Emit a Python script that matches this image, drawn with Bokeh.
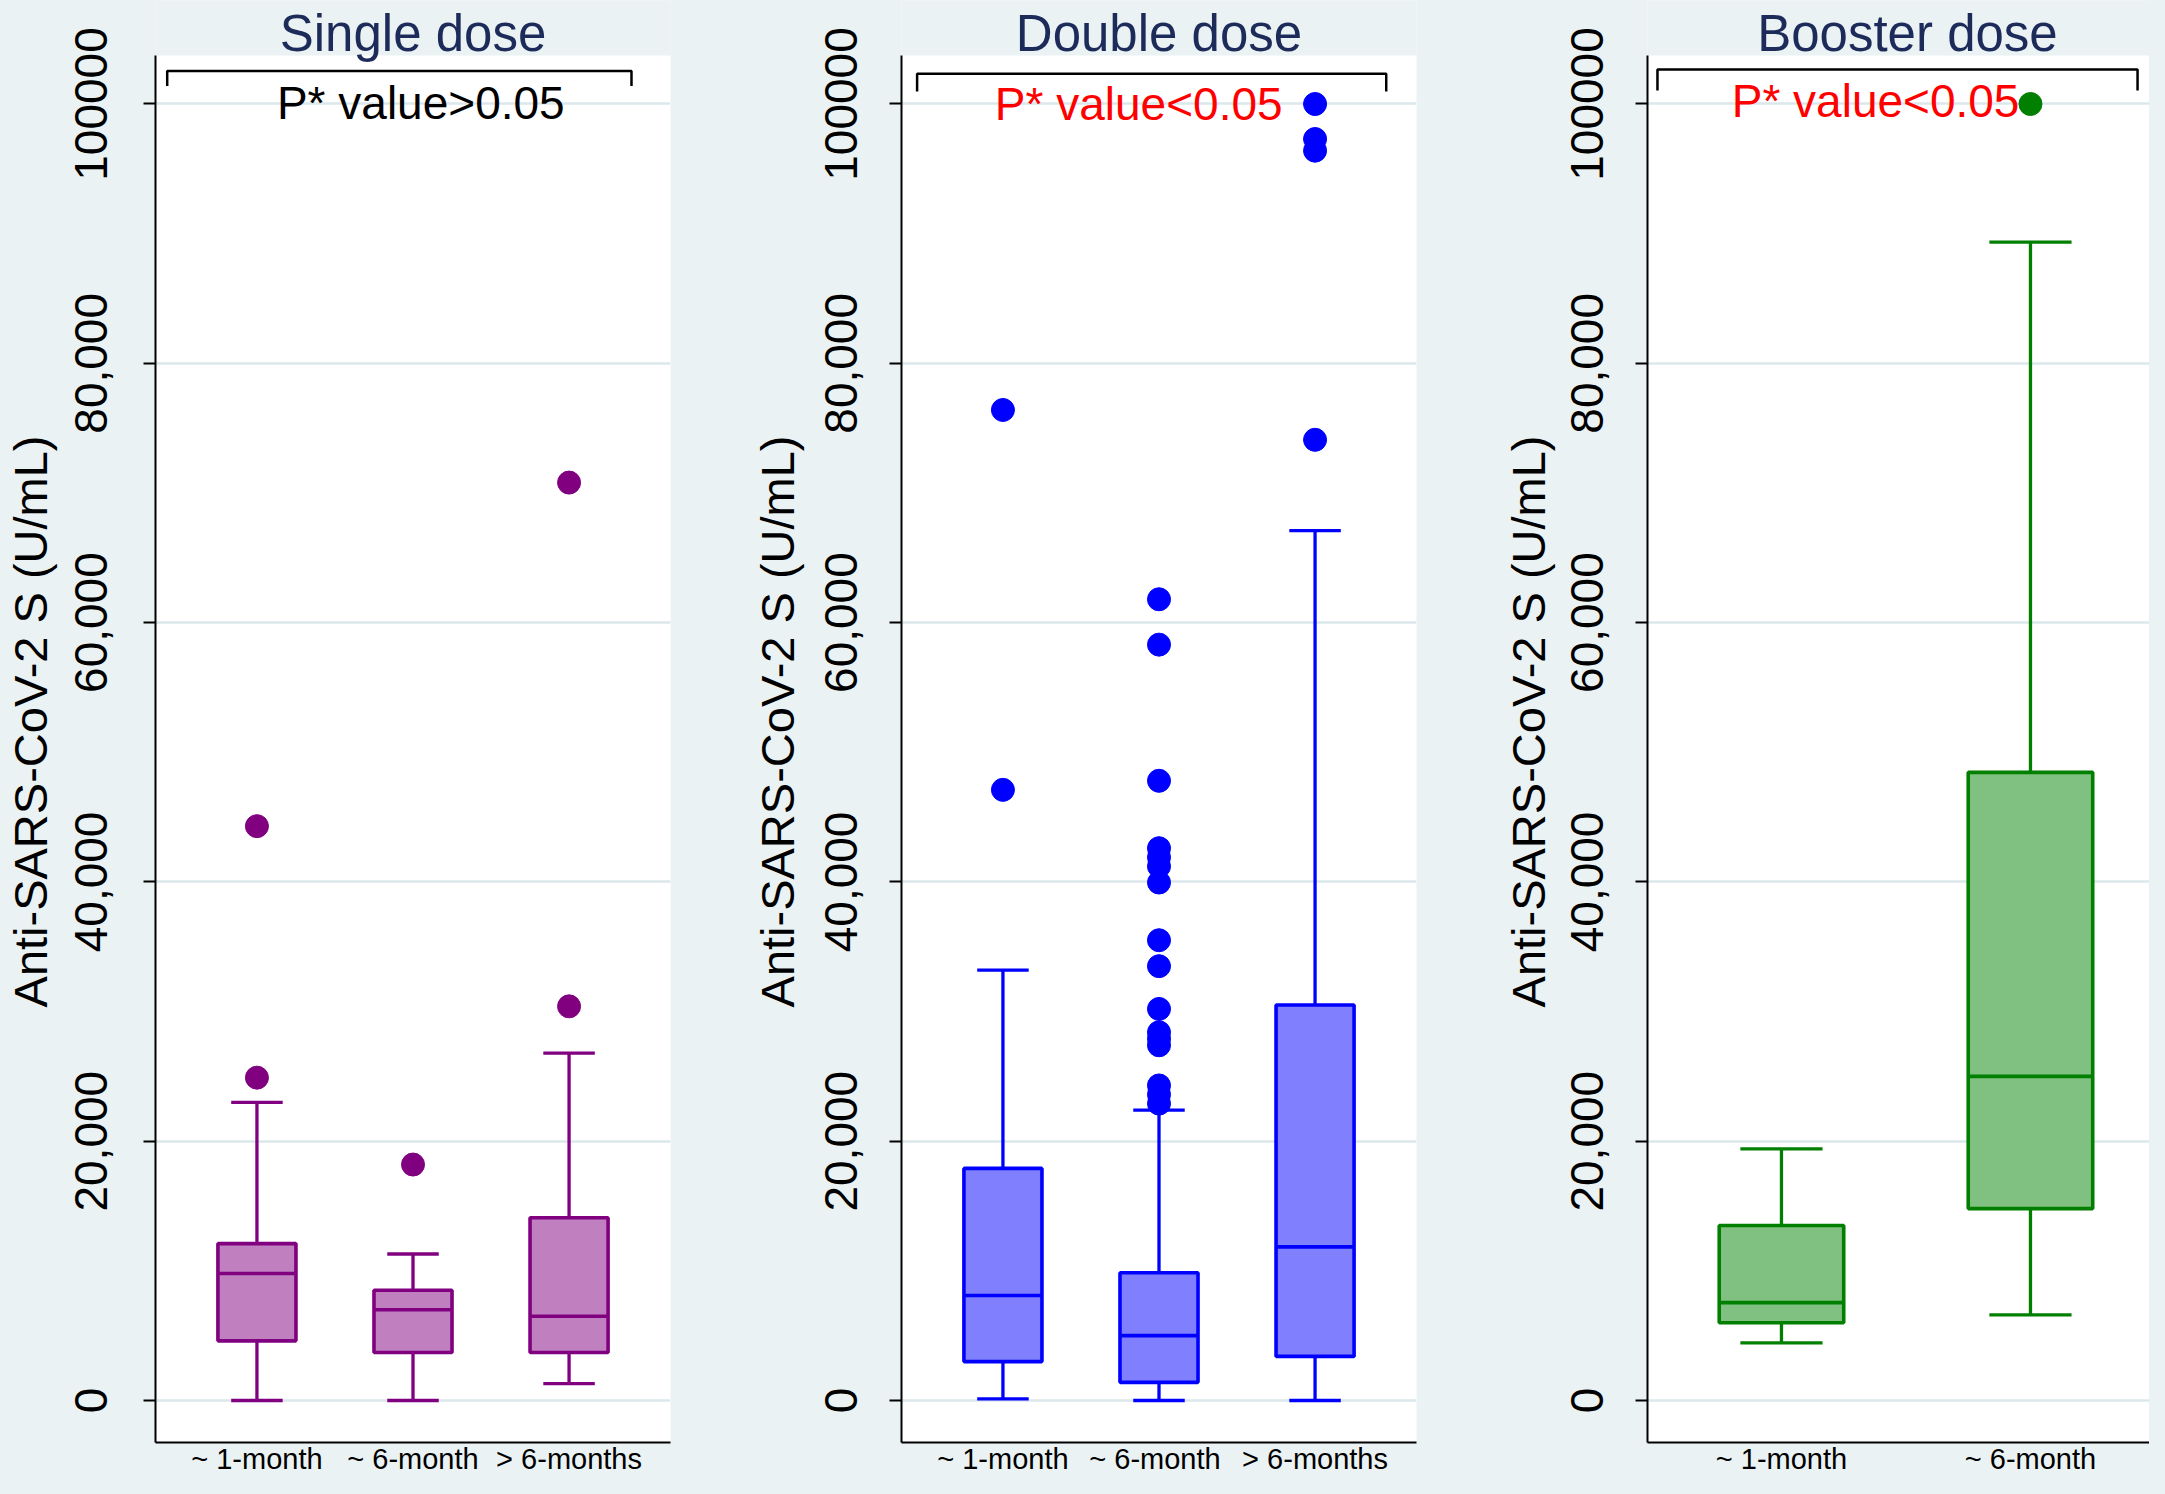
from bokeh.plotting import figure
from bokeh.layouts import row
from bokeh.models import FixedTicker, Range1d, LinearAxis, GlobalInlineStyleSheet
from bokeh.core.properties import value
from bokeh.embed import file_html
from bokeh.resources import INLINE

# ---------------- data ----------------
panel_titles = ["Single dose", "Double dose", "Booster dose"]
p_texts = ["P* value>0.05", "P* value<0.05", "P* value<0.05"]
y_label = "Anti-SARS-CoV-2 S (U/mL)"
y_ticks = [0, 20000, 40000, 60000, 80000, 100000]
y_tick_labels = ["0", "20,000", "40,000", "60,000", "80,000", "100000"]

single_labels = ["~ 1-month", "~ 6-month", "> 6-months"]
single_lower = [0, 0, 1300]
single_q1 = [4600, 3700, 3700]
single_median = [9800, 7000, 6500]
single_q3 = [12100, 8500, 14100]
single_upper = [23000, 11300, 26800]
single_out_group = [1, 1, 2, 3, 3]
single_out_value = [24900, 44300, 18200, 30400, 70800]

double_labels = ["~ 1-month", "~  6-month", "> 6-months"]
double_lower = [130, 0, 0]
double_q1 = [3000, 1400, 3400]
double_median = [8100, 5000, 11850]
double_q3 = [17900, 9850, 30500]
double_upper = [33200, 22400, 67100]
double_out_group = [1, 1,
                    2, 2, 2, 2, 2, 2, 2, 2, 2, 2, 2, 2, 2, 2, 2, 2,
                    3, 3, 3, 3]
double_out_value = [47100, 76400,
                    22900, 23600, 24300, 27400, 27900, 28400, 30200, 33500,
                    35500, 39950, 41200, 41900, 42600, 47800, 58300, 61800,
                    74100, 96400, 97300, 100000]

booster_labels = ["~ 1-month", "~ 6-month"]
booster_lower = [4450, 6600]
booster_q1 = [6000, 14800]
booster_median = [7550, 25000]
booster_q3 = [13500, 48450]
booster_upper = [19400, 89350]
booster_out_group = [2]
booster_out_value = [100000]

# ---------------- style ----------------
BG = "#eaf2f3"
GRID = "#dce7eb"
FONT = "Liberation Sans"
Y_BOTTOM = -3240      # bottom of frame (x axis line)
Y_WHITE_TOP = 103741  # top of white plot region
Y_TOP = 107983        # top of frame (grey title strip above white region)


def make_panel(title, labels, lower, q1, med, q3, upper, og, ov,
               line_col, fill_col, ptext, ptext_col, ptext_x, ptext_y,
               br_x0, br_x1, br_top, br_bot, title_x, tick_standoff,
               lab_standoff, x_start, x_end, width, right_border):
    n = len(labels)
    xs = list(range(1, n + 1))
    p = figure(width=width, height=1478, output_backend="svg",
               toolbar_location=None, tools="",
               x_range=Range1d(x_start, x_end),
               y_range=Range1d(Y_BOTTOM, Y_TOP),
               min_border_left=155, min_border_right=right_border,
               min_border_top=0, min_border_bottom=36)
    p.background_fill_color = "white"
    p.border_fill_color = BG
    p.outline_line_color = None

    # main y axis (ticks + tick labels)
    ya = p.left[0]
    ya.ticker = FixedTicker(ticks=y_ticks)
    ya.bounds = (Y_BOTTOM, Y_WHITE_TOP)
    ya.major_label_overrides = {t: l for t, l in zip(y_ticks, y_tick_labels)}
    ya.major_label_orientation = "vertical"
    ya.major_label_text_font = FONT
    ya.major_label_text_font_size = "46px"
    ya.major_label_text_color = "black"
    ya.major_label_standoff = tick_standoff
    ya.major_tick_out = 12
    ya.major_tick_in = 0
    ya.major_tick_line_width = 2
    ya.major_tick_line_color = "black"
    ya.minor_tick_line_color = None
    ya.axis_line_width = 2
    ya.axis_line_color = "black"

    # outer axis that only carries the y axis title
    ax2 = LinearAxis(ticker=FixedTicker(ticks=[]), axis_label=y_label,
                     axis_line_color=None,
                     major_tick_line_color=None, minor_tick_line_color=None,
                     major_tick_out=0, minor_tick_out=0, major_label_standoff=0,
                     axis_label_text_font=FONT,
                     axis_label_text_font_size="47px",
                     axis_label_text_font_style="normal",
                     axis_label_text_color="black",
                     axis_label_standoff=lab_standoff)
    p.add_layout(ax2, "left")

    xa = p.below[0]
    xa.ticker = FixedTicker(ticks=xs)
    xa.major_label_overrides = {x: l for x, l in zip(xs, labels)}
    xa.major_label_text_font = FONT
    xa.major_label_text_font_size = "29px"
    xa.major_label_text_color = "black"
    xa.major_label_standoff = 0
    xa.major_tick_out = 0
    xa.major_tick_in = 0
    xa.minor_tick_out = 0
    xa.minor_tick_in = 0
    xa.major_tick_line_color = None
    xa.minor_tick_line_color = None
    xa.axis_line_width = 2
    xa.axis_line_color = "black"

    p.xgrid.grid_line_color = None
    p.ygrid.grid_line_color = GRID
    p.ygrid.grid_line_width = 2.5

    # grey strip above the white plot region (title area)
    p.quad(left=[x_start - 1], right=[x_end + 1], bottom=[Y_WHITE_TOP],
           top=[Y_TOP + 5000], fill_color=BG, line_color=None)

    bw = 0.5
    cw = 0.33
    # whiskers
    p.segment(x0=xs, y0=q3, x1=xs, y1=upper, line_color=line_col, line_width=3.3)
    p.segment(x0=xs, y0=q1, x1=xs, y1=lower, line_color=line_col, line_width=3.3)
    p.segment(x0=[x - cw / 2 for x in xs], y0=upper, x1=[x + cw / 2 for x in xs],
              y1=upper, line_color=line_col, line_width=3.3)
    p.segment(x0=[x - cw / 2 for x in xs], y0=lower, x1=[x + cw / 2 for x in xs],
              y1=lower, line_color=line_col, line_width=3.3)
    # boxes
    p.vbar(x=xs, width=bw, bottom=q1, top=q3, fill_color=fill_col,
           line_color=line_col, line_width=3.6)
    p.segment(x0=[x - bw / 2 for x in xs], y0=med, x1=[x + bw / 2 for x in xs],
              y1=med, line_color=line_col, line_width=3.6)
    # outliers
    p.scatter(x=og, y=ov, size=23, fill_color=line_col, line_color=line_col)

    # bracket + p-value text
    p.line(x=[br_x0, br_x0, br_x1, br_x1], y=[br_bot, br_top, br_top, br_bot],
           line_color="black", line_width=2.5)
    p.text(x=[ptext_x], y=[ptext_y], text=[ptext], text_color=ptext_col,
           text_font=value(FONT), text_font_size="46px", text_align="center",
           text_baseline="alphabetic")

    # panel title
    p.text(x=[title_x], y=[105470], text=[title], text_color="#1c2b5a",
           text_font=value(FONT), text_font_size="51px", text_align="center",
           text_baseline="alphabetic")
    return p


p1 = make_panel(panel_titles[0], single_labels, single_lower, single_q1,
                single_median, single_q3, single_upper, single_out_group,
                single_out_value, "#800080", "#c080c0", p_texts[0], "black",
                2.05, 100110, 0.425, 3.40, 102553, 101380, 2.0,
                36, 16, 0.35, 3.65, 746, 76)
p2 = make_panel(panel_titles[1], double_labels, double_lower, double_q1,
                double_median, double_q3, double_upper, double_out_group,
                double_out_value, "#0000ff", "#8080ff", p_texts[1], "#ff0000",
                1.87, 99990, 0.45, 3.456, 102337, 100964, 2.0,
                32, 19, 0.35, 3.65, 746, 76)
p3 = make_panel(panel_titles[2], booster_labels, booster_lower, booster_q1,
                booster_median, booster_q3, booster_upper, booster_out_group,
                booster_out_value, "#007f00", "#80c080", p_texts[2], "#ff0000",
                1.378, 100220, 0.502, 2.43, 102661, 101041, 1.506,
                32, 14, 0.462, 2.478, 657, 0)

layout = row(p1, p2, p3, styles={"background-color": BG})
layout.stylesheets = [GlobalInlineStyleSheet(css="body { background-color: #eaf2f3; }")]
open("out.html", "w").write(file_html(layout, INLINE))
